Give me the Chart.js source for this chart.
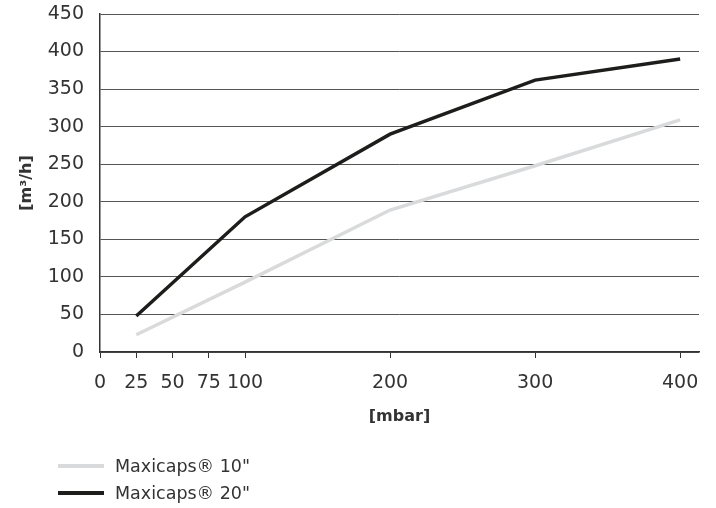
<!DOCTYPE html>
<html>
<head>
<meta charset="utf-8">
<script src="https://cdn.jsdelivr.net/npm/chart.js@4"></script>
<style>
  html, body { margin: 0; padding: 0; background: #fff; }
  #wrap { position: relative; width: 716px; height: 508px; }
  #legend { position: absolute; left: 58px; top: 452px; font-family: "DejaVu Sans", sans-serif; font-size: 17.5px; color: #333; }
  .row { display: flex; align-items: center; height: 27px; }
  .sw { width: 46px; height: 4px; margin-right: 11px; }
</style>
</head>
<body>
<div id="wrap">
  <canvas id="c" width="716" height="508"></canvas>
  <div id="legend"></div>
</div>
<script>
const xTicks = [0, 25, 50, 75, 100, 200, 300, 400];
const pressure = [25, 100, 200, 300, 400];
const seriesNames = ['Maxicaps® 10"', 'Maxicaps® 20"'];
const flow10 = [23, 93, 189, 248, 309];
const flow20 = [48, 180, 290, 362, 390];
const seriesColors = ['#d9dadb', '#1d1d1b'];
const yTitle = '[m³/h]';
const xTitle = '[mbar]';

const FONT = '"DejaVu Sans", sans-serif';

const datasets = [flow10, flow20].map((vals, i) => ({
  label: seriesNames[i],
  data: pressure.map((p, j) => ({ x: p, y: vals[j] })),
  borderColor: seriesColors[i],
  backgroundColor: seriesColors[i],
  borderWidth: 3.5,
  pointRadius: 0,
  tension: 0,
  fill: false
}));

new Chart(document.getElementById('c'), {
  type: 'line',
  data: { datasets },
  options: {
    responsive: false,
    animation: false,
    layout: { padding: { top: 14, right: 17, bottom: 72, left: 0 } },
    plugins: { legend: { display: false }, tooltip: { enabled: false } },
    scales: {
      x: {
        type: 'linear',
        min: 0,
        max: 413,
        afterBuildTicks: (s) => { s.ticks = xTicks.map(v => ({ value: v })); },
        afterFit: (s) => { s.height = 84; s.paddingLeft = 0; s.paddingRight = 0; },
        grid: { drawOnChartArea: false, drawTicks: true, tickLength: 6, color: '#333' },
        border: { color: '#333', width: 1.5 },
        ticks: { font: { family: FONT, size: 19 }, color: '#333', padding: 14, maxRotation: 0, autoSkip: false },
        title: { display: true, text: xTitle, font: { family: FONT, size: 16, weight: 'bold' }, color: '#333', padding: { top: 0, bottom: 10 } }
      },
      y: {
        min: 0,
        max: 450,
        afterFit: (s) => { s.width = 100; s.paddingTop = 0; s.paddingBottom = 0; },
        ticks: { stepSize: 50, font: { family: FONT, size: 19 }, color: '#333', padding: 16 },
        grid: { color: '#555', drawTicks: false, lineWidth: 1 },
        border: { color: '#333', width: 1.5 },
        title: { display: true, text: yTitle, font: { family: FONT, size: 16, weight: 'bold' }, color: '#333', padding: { top: 17, bottom: 0 } }
      }
    }
  }
});

const lg = document.getElementById('legend');
seriesNames.forEach((n, i) => {
  const r = document.createElement('div');
  r.className = 'row';
  r.innerHTML = '<div class="sw" style="background:' + seriesColors[i] + '"></div><span></span>';
  r.querySelector('span').textContent = n;
  lg.appendChild(r);
});
</script>
</body>
</html>
